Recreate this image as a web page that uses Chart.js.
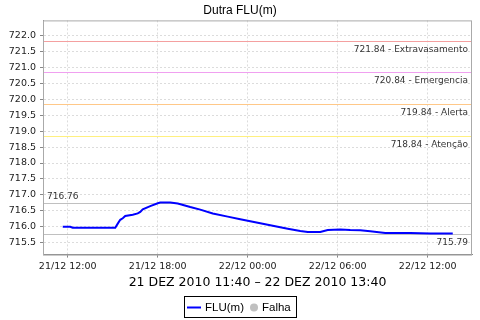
<!DOCTYPE html>
<html>
<head>
<meta charset="utf-8">
<script src="https://cdn.jsdelivr.net/npm/chart.js@4"></script>
<style>
  html, body { margin: 0; padding: 0; background: #fff; }
  #wrap { width: 480px; height: 320px; }
</style>
</head>
<body>
<div id="wrap"><canvas id="levelChart" width="480" height="320"></canvas></div>
<script>
// minutes since 21/12/2010 00:00
const times = [700, 730, 740, 910, 920, 930, 940, 950, 980, 1000, 1010, 1020, 1050, 1080, 1090, 1130,
  1160, 1210, 1250, 1300, 1360, 1410, 1460, 1530, 1600, 1650, 1680, 1730, 1760, 1810, 1850, 1890,
  1930, 1990, 2090, 2170, 2260];
const levels = [716.00, 716.00, 715.97, 715.97, 716.10, 716.22, 716.27, 716.34, 716.38, 716.42, 716.47, 716.55,
  716.65, 716.74, 716.76, 716.76, 716.73, 716.62, 716.54, 716.42, 716.32, 716.24, 716.16, 716.05,
  715.94, 715.87, 715.84, 715.84, 715.90, 715.92, 715.90, 715.89, 715.86, 715.81, 715.81, 715.79, 715.79];

const xTicks = [720, 1080, 1440, 1800, 2160];
const xTickLabels = ['21/12 12:00', '21/12 18:00', '22/12 00:00', '22/12 06:00', '22/12 12:00'];
const yTicks = [715.5, 716.0, 716.5, 717.0, 717.5, 718.0, 718.5, 719.0, 719.5, 720.0, 720.5, 721.0, 721.5, 722.0];

const limitValues = [721.84, 720.84, 719.84, 718.84];
const limitNames = ['Extravasamento', 'Emergencia', 'Alerta', 'Atenção'];
const limitColors = ['#f4a0a0', '#f0a0f0', '#ffc888', '#fff080'];
const maxLevel = 716.76;
const minLevel = 715.79;

const gridOpts = { color: '#dcdcdc', tickColor: '#888', tickLength: 3 };
const borderOpts = { color: '#888', dash: [2, 2] };

const extras = {
  id: 'extras',
  beforeDatasetsDraw(chart) {
    const { ctx, chartArea: a, scales: { y } } = chart;
    ctx.save();
    ctx.lineWidth = 1;
    ctx.font = '9px "DejaVu Sans"';
    ctx.textAlign = 'right';
    ctx.textBaseline = 'middle';
    limitValues.forEach((v, i) => {
      const py = Math.round(y.getPixelForValue(v)) + 0.5;
      ctx.strokeStyle = limitColors[i];
      ctx.beginPath(); ctx.moveTo(a.left, py); ctx.lineTo(a.right, py); ctx.stroke();
      ctx.fillStyle = '#333';
      ctx.fillText(v.toFixed(2) + ' - ' + limitNames[i], a.right - 4, py + 8);
    });
    ctx.strokeStyle = '#c0c0c0';
    const pMax = Math.round(y.getPixelForValue(maxLevel)) + 0.5;
    const pMin = Math.round(y.getPixelForValue(minLevel)) + 0.5;
    ctx.beginPath();
    ctx.moveTo(a.left, pMax); ctx.lineTo(a.right, pMax);
    ctx.moveTo(a.left, pMin); ctx.lineTo(a.right, pMin);
    ctx.stroke();
    ctx.fillStyle = '#333';
    ctx.textAlign = 'left';
    ctx.fillText(maxLevel.toFixed(2), a.left + 4, pMax - 7);
    ctx.textAlign = 'right';
    ctx.fillText(minLevel.toFixed(2), a.right - 4, pMin + 8);
    ctx.restore();
  },
  afterDraw(chart) {
    const { ctx, chartArea: a } = chart;
    ctx.save();
    // plot frame
    ctx.strokeStyle = '#aaa';
    ctx.lineWidth = 1;
    ctx.strokeRect(a.left + 0.5, a.top + 0.5, a.right - a.left - 1, a.bottom - a.top);
    // legend
    const bx = 184.5, by = 296.5, bw = 112, bh = 21;
    ctx.strokeStyle = '#000';
    ctx.strokeRect(bx, by, bw, bh);
    const cy = by + bh / 2 + 0.5;
    ctx.strokeStyle = '#0000ff';
    ctx.lineWidth = 2;
    ctx.beginPath(); ctx.moveTo(187, cy); ctx.lineTo(201, cy); ctx.stroke();
    ctx.fillStyle = '#000';
    ctx.font = '11.5px "Liberation Sans"';
    ctx.textAlign = 'left';
    ctx.textBaseline = 'middle';
    ctx.fillText('FLU(m)', 205, cy);
    ctx.fillStyle = '#c0c0c0';
    ctx.beginPath(); ctx.arc(254, cy, 4, 0, Math.PI * 2); ctx.fill();
    ctx.fillStyle = '#000';
    ctx.fillText('Falha', 262, cy);
    ctx.restore();
  }
};

new Chart(document.getElementById('levelChart'), {
  type: 'line',
  data: {
    datasets: [{
      label: 'FLU(m)',
      data: times.map((t, i) => ({ x: t, y: levels[i] })),
      borderColor: '#0000ff',
      borderWidth: 2,
      pointRadius: 0,
      tension: 0,
      fill: false
    }]
  },
  options: {
    responsive: false,
    animation: false,
    layout: { padding: { left: 0, right: 0, top: 0, bottom: 30 } },
    plugins: {
      legend: { display: false },
      tooltip: { enabled: false },
      title: {
        display: true,
        text: 'Dutra FLU(m)',
        color: '#000',
        font: { family: 'Liberation Sans', size: 12, weight: 'normal' },
        padding: { top: 3, bottom: 3 }
      }
    },
    scales: {
      x: {
        type: 'linear',
        min: 621,
        max: 2337,
        afterBuildTicks: s => { s.ticks = xTicks.map(v => ({ value: v })); },
        ticks: {
          autoSkip: false,
          maxRotation: 0,
          padding: 3,
          color: '#222',
          font: { family: 'DejaVu Sans', size: 9.5 },
          callback: v => xTickLabels[xTicks.indexOf(v)]
        },
        grid: gridOpts,
        border: borderOpts,
        title: {
          display: true,
          text: '21 DEZ 2010 11:40 – 22 DEZ 2010 13:40',
          color: '#000',
          font: { family: 'DejaVu Sans', size: 12.5 },
          padding: { top: 0, bottom: 0 }
        }
      },
      y: {
        min: 715.13,
        max: 722.47,
        afterBuildTicks: s => { s.ticks = yTicks.map(v => ({ value: v })); },
        afterFit: s => { s.width = 43; },
        ticks: {
          padding: 4,
          color: '#222',
          font: { family: 'DejaVu Sans', size: 9.5 },
          callback: v => v.toFixed(1)
        },
        grid: gridOpts,
        border: borderOpts
      },
      yr: {
        position: 'right',
        afterFit: s => { s.width = 8; },
        ticks: { display: false },
        grid: { display: false },
        border: { display: false }
      }
    }
  },
  plugins: [extras]
});
</script>
</body>
</html>
